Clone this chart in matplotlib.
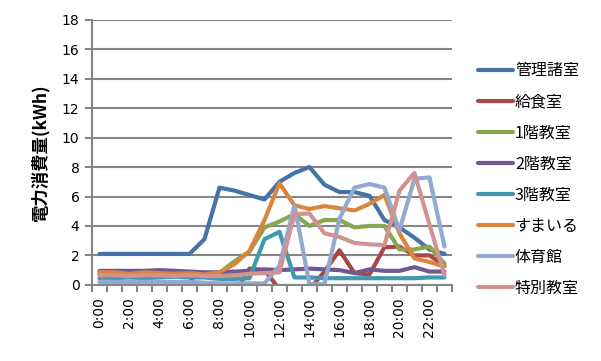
import matplotlib
matplotlib.use("Agg")
import matplotlib.pyplot as plt
from matplotlib.ticker import FixedLocator, NullFormatter

plt.rcParams['font.family'] = ['Noto Sans CJK JP', 'DejaVu Sans']

hours = ["%d:00" % h for h in range(24)]

kanri = [2.1, 2.1, 2.1, 2.1, 2.1, 2.1, 2.1, 3.1, 6.6, 6.4, 6.1, 5.8,
         7.0, 7.6, 8.0, 6.8, 6.3, 6.3, 6.05, 4.4, 3.9, 3.2, 2.4, 2.1]
kyushoku = [0.7, 0.7, 0.7, 0.7, 0.7, 0.7, 0.6, -1.0, -1.2, -0.6, 1.1, 1.0,
            -0.3, -0.6, -0.3, 0.9, 2.35, 0.8, 0.7, 2.55, 2.6, 2.0, 2.0, 1.3]
floor1 = [0.7, 0.7, 0.7, 0.7, 0.7, 0.7, 0.7, 0.7, 0.8, 1.6, 2.25, 3.9,
          4.3, 4.8, 4.0, 4.4, 4.4, 3.9, 4.0, 4.0, 2.4, 2.4, 2.6, 1.45]
floor2 = [0.95, 0.95, 0.95, 0.95, 1.0, 0.95, 0.9, 0.85, 0.85, 0.9, 0.95, 1.05,
          1.0, 1.05, 1.1, 1.05, 1.0, 0.8, 1.05, 0.95, 0.95, 1.2, 0.9, 0.9]
floor3 = [0.45, 0.45, 0.5, 0.45, 0.5, 0.55, 0.5, 0.5, 0.4, 0.4, 0.45, 3.1,
          3.6, 0.5, 0.5, 0.45, 0.45, 0.45, 0.45, 0.45, 0.45, 0.45, 0.5, 0.5]
sumairu = [0.85, 0.85, 0.75, 0.85, 0.8, 0.75, 0.8, 0.7, 0.85, 1.4, 2.3, 4.4,
           6.9, 5.4, 5.15, 5.35, 5.2, 5.05, 5.5, 6.1, 3.5, 1.8, 1.55, 1.25]
taiikukan = [0.2, 0.2, 0.2, 0.2, 0.2, 0.2, 0.2, 0.15, 0.1, 0.1, 0.1, 0.1,
             1.3, 5.4, 0.05, 0.05, 4.5, 6.6, 6.85, 6.6, 3.7, 7.2, 7.3, 2.6]
tokubetsu = [0.65, 0.65, 0.6, 0.65, 0.65, 0.6, 0.65, 0.6, 0.6, 0.65, 0.75, 0.8,
             0.85, 4.8, 4.85, 3.5, 3.25, 2.85, 2.75, 2.7, 6.4, 7.6, 4.1, 0.65]

series = [
    ("管理諸室", kanri, "#4572A7"),
    ("給食室", kyushoku, "#AA4643"),
    ("1階教室", floor1, "#89A54E"),
    ("2階教室", floor2, "#71588F"),
    ("3階教室", floor3, "#4198AF"),
    ("すまいる", sumairu, "#DB843D"),
    ("体育館", taiikukan, "#93A9CF"),
    ("特別教室", tokubetsu, "#D19392"),
]

fig = plt.figure(figsize=(6.01, 3.61), dpi=100)
ax = fig.add_axes([0.153, 0.211, 0.599, 0.734])

x = list(range(len(hours)))
for name, vals, col in series:
    ax.plot(x, vals, color=col, lw=3, label=name, solid_capstyle='round')

ax.set_xlim(-0.5, 23.5)
ax.set_ylim(0, 18)
ax.set_yticks(range(0, 19, 2))
ax.yaxis.grid(True, color="#868686", lw=1.5)
ax.set_axisbelow(True)

# ticks at category boundaries, labels in the middle
ax.xaxis.set_major_locator(FixedLocator([i - 0.5 for i in range(25)]))
ax.xaxis.set_major_formatter(NullFormatter())
ax.xaxis.set_minor_locator(FixedLocator(x[::2]))
ax.set_xticklabels(hours[::2], minor=True, rotation=90, fontsize=10,
                   family='DejaVu Sans')
ax.tick_params(axis='x', which='major', length=5, width=1.5, color="#868686")
ax.tick_params(axis='x', which='minor', length=0, pad=9)
ax.tick_params(axis='y', length=5, width=1.5, color="#868686", labelsize=10,
               pad=4)
for lab in ax.get_yticklabels():
    lab.set_family('DejaVu Sans')

for s in ["top", "right"]:
    ax.spines[s].set_visible(False)
for s in ["left", "bottom"]:
    ax.spines[s].set_color("#868686")
    ax.spines[s].set_linewidth(1.5)

ax.set_ylabel("電力消費量(kWh)", fontsize=12.5, fontweight='bold', labelpad=9)

fig.legend(loc='upper left', bbox_to_anchor=(0.785, 0.845), frameon=False,
           fontsize=11.5, handlelength=2.2, handletextpad=0.1,
           labelspacing=0.88, borderaxespad=0)

fig.savefig("out.png", dpi=100)
